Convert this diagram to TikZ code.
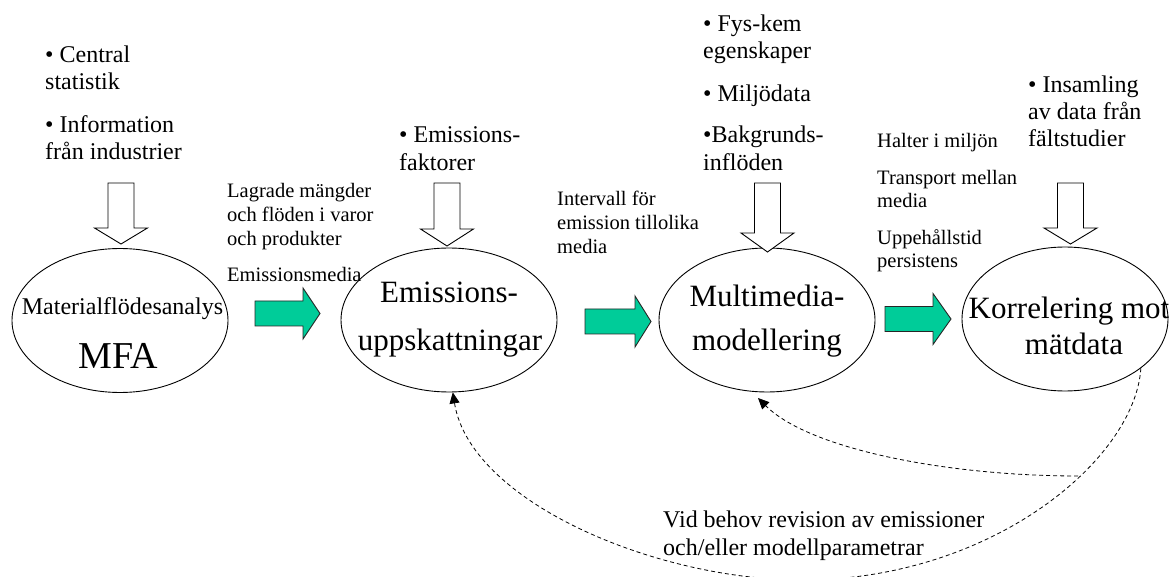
\documentclass[tikz,border=0pt]{standalone}
\usepackage{fontspec}
\setmainfont{Liberation Serif}
\usetikzlibrary{shapes.geometric,arrows.meta}
\definecolor{tealgreen}{RGB}{0,204,153}
\newcommand{\fsz}[2]{\fontsize{#1}{#2}\selectfont}
% hollow downward block arrow: x, top, head start, tip
\newcommand{\hollowdown}[4]{%
  \draw[hollow] (#1-13,#2) -- (#1+13,#2) -- (#1+13,#3) -- (#1+26.5,#3) -- (#1,#4)
     -- (#1-26.5,#3) -- (#1-13,#3) -- cycle;}
% green right block arrow: shaft start, head start, tip x, mid y
\newcommand{\greenright}[4]{%
  \draw[greenarrow] (#1,#4-12.5) -- (#2,#4-12.5) -- (#2,#4-25.5) -- (#3,#4)
     -- (#2,#4+25.5) -- (#2,#4+12.5) -- (#1,#4+12.5) -- cycle;}
\begin{document}
\begin{tikzpicture}[x=1pt,y=-1pt,
  oval/.style={draw,ellipse,line width=0.9pt,minimum width=216pt,minimum height=144pt,inner sep=0pt},
  toptext/.style={anchor=base west,inner sep=0pt,font=\fsz{24}{27}},
  midtext/.style={anchor=base west,inner sep=0pt,font=\fsz{20.5}{24}},
  bigtext/.style={anchor=base,inner sep=0pt,font=\fsz{31}{36}},
  hollow/.style={draw,fill=white,line width=0.9pt,line join=miter},
  greenarrow/.style={draw=black!85,fill=tealgreen,line width=0.9pt,line join=miter},
  feedback/.style={draw,line width=0.8pt,dash pattern=on 4pt off 3pt,-{Triangle[length=11pt,width=10pt]}}
]
\useasboundingbox (0,0) rectangle (1170,577);

% ellipses
\node[oval] (mfa) at (120,320.5) {};
\node[oval] (emis) at (449,320) {};
\node[oval] (multi) at (767,320) {};
\node[oval,minimum width=206pt] (korr) at (1065,319) {};

% ellipse texts
\node[anchor=base,inner sep=0pt,font=\fsz{24}{27}] (mfa1) at (122.5,315) {Materialflödesanalys};
\node[anchor=base,inner sep=0pt,font=\fsz{38}{40}] (mfa2) at (118.5,368) {MFA};
\node[bigtext] (emis1) at (449,303) {Emissions-};
\node[bigtext] (emis2) at (450,350) {uppskattningar};
\node[bigtext] (multi1) at (767,307) {Multimedia-};
\node[bigtext] (multi2) at (767,350) {modellering};
\node[bigtext] (korr1) at (1069,319) {Korrelering mot};
\node[bigtext] (korr2) at (1074,355) {mätdata};

% top inputs
\node[toptext] (t1) at (45,63) {• Central};
\node[toptext] (t2) at (45,90) {statistik};
\node[toptext] (t3) at (45,133) {• Information};
\node[toptext] (t4) at (45,160) {från industrier};

\node[toptext] (e1) at (399,143) {• Emissions-};
\node[toptext] (e2) at (399,171) {faktorer};

\node[toptext] (f1) at (703,32) {• Fys-kem};
\node[toptext] (f2) at (703,59) {egenskaper};
\node[toptext] (f3) at (703,102) {• Miljödata};
\node[toptext] (f4) at (703,143) {•Bakgrunds-};
\node[toptext] (f5) at (703,171) {inflöden};

\node[toptext] (i1) at (1028,93) {• Insamling};
\node[toptext] (i2) at (1028,120) {av data från};
\node[toptext] (i3) at (1028,147) {fältstudier};

% flow labels
\node[midtext] (l1) at (227,198) {Lagrade mängder};
\node[midtext] (l2) at (227,222) {och flöden i varor};
\node[midtext] (l3) at (227,246) {och produkter};
\node[midtext] (l4) at (227,282) {Emissionsmedia};

\node[midtext] (m1) at (557,206) {Intervall för};
\node[midtext] (m2) at (557,230) {emission tillolika};
\node[midtext] (m3) at (557,254) {media};

\node[midtext] (h1) at (877,148) {Halter i miljön};
\node[midtext] (h2) at (877,185) {Transport mellan};
\node[midtext] (h3) at (877,208) {media};
\node[midtext] (h4) at (877,245) {Uppehållstid};
\node[midtext] (h5) at (877,268) {persistens};

\node[toptext] (v1) at (663,527) {Vid behov revision av emissioner};
\node[toptext] (v2) at (663,555) {och/eller modellparametrar};

% hollow input arrows
\hollowdown{121}{183}{228}{244}
\hollowdown{447}{183}{229}{246}
\hollowdown{767.5}{183}{233}{252}
\hollowdown{1070.5}{183}{228}{244}

% green process arrows
\greenright{255}{303}{320}{313.5}
\greenright{585}{635}{651}{321.5}
\greenright{885}{933}{951}{319}

% feedback loops
\coordinate (bottom) at (797,580);
\coordinate (junc) at (1078,476);
\coordinate (mtip) at (758,398);
\draw[feedback] (korr.-33) .. controls (1135,460) and (990,582) .. (bottom)
   .. controls (650,578) and (470,500) .. (emis.-87);
\draw[feedback] (junc) .. controls (950,476) and (810,450) .. (mtip);
\end{tikzpicture}
\end{document}
